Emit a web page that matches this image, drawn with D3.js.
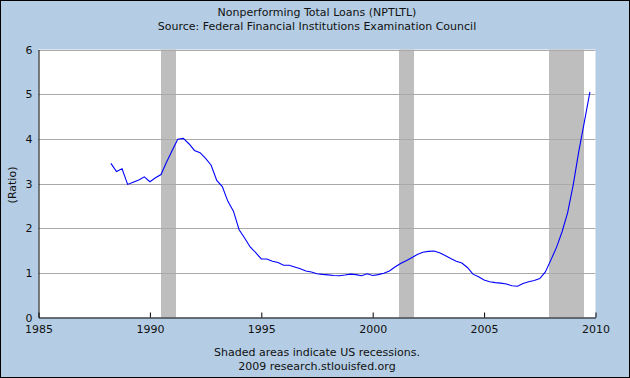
<!DOCTYPE html>
<html><head><meta charset="utf-8">
<script src="https://cdn.jsdelivr.net/npm/d3@7"></script>
<style>html,body{margin:0;padding:0;background:#fff}svg{display:block}text{font-family:"DejaVu Sans",Verdana,sans-serif;fill:#111}</style>
</head><body>
<script>
const titleLines = ["Nonperforming Total Loans (NPTLTL)", "Source: Federal Financial Institutions Examination Council"];
const footerLines = ["Shaded areas indicate US recessions.", "2009 research.stlouisfed.org"];
const yLabel = "(Ratio)";
const xTicks = [1985, 1990, 1995, 2000, 2005, 2010];
const yTicks = [0, 1, 2, 3, 4, 5, 6];
const recessions = [[1990.5, 1991.17], [2001.17, 2001.87], [2007.92, 2009.5]];
const startQuarter = "1988Q1";
const values = [
  3.45, 3.27, 3.33, 2.98,
  3.03, 3.08, 3.15, 3.04,
  3.13, 3.20, 3.48, 3.74,
  3.99, 4.01, 3.89, 3.74,
  3.69, 3.56, 3.41, 3.07,
  2.93, 2.60, 2.38, 1.97,
  1.78, 1.58, 1.45, 1.31,
  1.31, 1.26, 1.23, 1.17,
  1.17, 1.13, 1.09, 1.04,
  1.02, 0.98, 0.965, 0.955,
  0.94, 0.935, 0.95, 0.97,
  0.96, 0.935, 0.98, 0.94,
  0.96, 0.99, 1.04, 1.13,
  1.21, 1.27, 1.34, 1.41,
  1.46, 1.48, 1.49, 1.45,
  1.39, 1.32, 1.26, 1.22,
  1.12, 0.97, 0.91, 0.84,
  0.80, 0.78, 0.77, 0.75,
  0.71, 0.70, 0.76, 0.80,
  0.83, 0.87, 1.02, 1.29,
  1.57, 1.92, 2.35, 2.97,
  3.72, 4.38, 5.05
];

const W = 630, H = 378;
const m = {left: 38.5, right: 595.5, top: 49.5, bottom: 317.5};
const svg = d3.select("body").append("svg").attr("width", W).attr("height", H);
svg.append("rect").attr("x", 0.5).attr("y", 0.5).attr("width", W - 1).attr("height", H - 1)
  .attr("fill", "#b4cde4").attr("stroke", "#000");

const x = d3.scaleLinear().domain([1985, 2010]).range([m.left, m.right]);
const y = d3.scaleLinear().domain([0, 6]).range([m.bottom, m.top]);

svg.append("rect").attr("x", m.left).attr("y", m.top).attr("width", m.right - m.left).attr("height", m.bottom - m.top).attr("fill", "#fff");

// recessions
svg.selectAll("rect.rec").data(recessions).enter().append("rect").attr("class", "rec")
  .attr("x", d => Math.round(x(d[0]))).attr("width", d => Math.round(x(d[1])) - Math.round(x(d[0])))
  .attr("y", m.top).attr("height", m.bottom - m.top).attr("fill", "#bebebe");

// gridlines
svg.selectAll("line.grid").data(yTicks.filter(v => v > 0)).enter().append("line").attr("class", "grid")
  .attr("x1", m.left).attr("x2", m.right).attr("y1", d => Math.round(y(d)) + 0.5).attr("y2", d => Math.round(y(d)) + 0.5)
  .attr("stroke", "#aaaaaa").attr("stroke-width", 1);

// data
const sy = +startQuarter.slice(0, 4), sq = +startQuarter.slice(5);
const data = values.map((v, i) => {
  const qi = sq - 1 + i;
  return {t: sy + Math.floor(qi / 4) + ((qi % 4) + 1) / 4, v};
});
svg.append("path").datum(data).attr("fill", "none").attr("stroke", "#0000ff").attr("stroke-width", 1.1)
  .attr("d", d3.line().x(d => x(d.t)).y(d => y(d.v)));

// axes
const xAxis = svg.append("g").attr("transform", `translate(0,${m.bottom})`)
  .call(d3.axisBottom(x).tickValues(xTicks).tickFormat(d3.format("d")).tickSizeInner(-5).tickSizeOuter(0).tickPadding(8));
xAxis.select(".domain").attr("stroke", "#000");
xAxis.selectAll(".tick line").attr("stroke", "#000");
xAxis.selectAll("text").attr("font-size", 11).attr("font-family", "DejaVu Sans").attr("fill", "#111");

const yAxis = svg.append("g").attr("transform", `translate(${m.left},0)`)
  .call(d3.axisLeft(y).tickValues(yTicks).tickFormat(d3.format("d")).tickSize(0).tickPadding(6));
yAxis.select(".domain").attr("stroke", "#000");
yAxis.selectAll("text").attr("font-size", 11).attr("font-family", "DejaVu Sans").attr("fill", "#111");

// texts
const cx = (m.left + m.right) / 2;
svg.selectAll("text.title").data(titleLines).enter().append("text").attr("class", "title")
  .attr("x", cx).attr("y", (d, i) => 16 + i * 13.5).attr("text-anchor", "middle").attr("font-size", 11).text(d => d);
svg.selectAll("text.foot").data(footerLines).enter().append("text").attr("class", "foot")
  .attr("x", cx).attr("y", (d, i) => 356 + i * 13.5).attr("text-anchor", "middle").attr("font-size", 11).text(d => d);
svg.append("text").attr("transform", `translate(16,185) rotate(-90)`).attr("text-anchor", "middle")
  .attr("font-size", 11).text(yLabel);
</script>
</body></html>
